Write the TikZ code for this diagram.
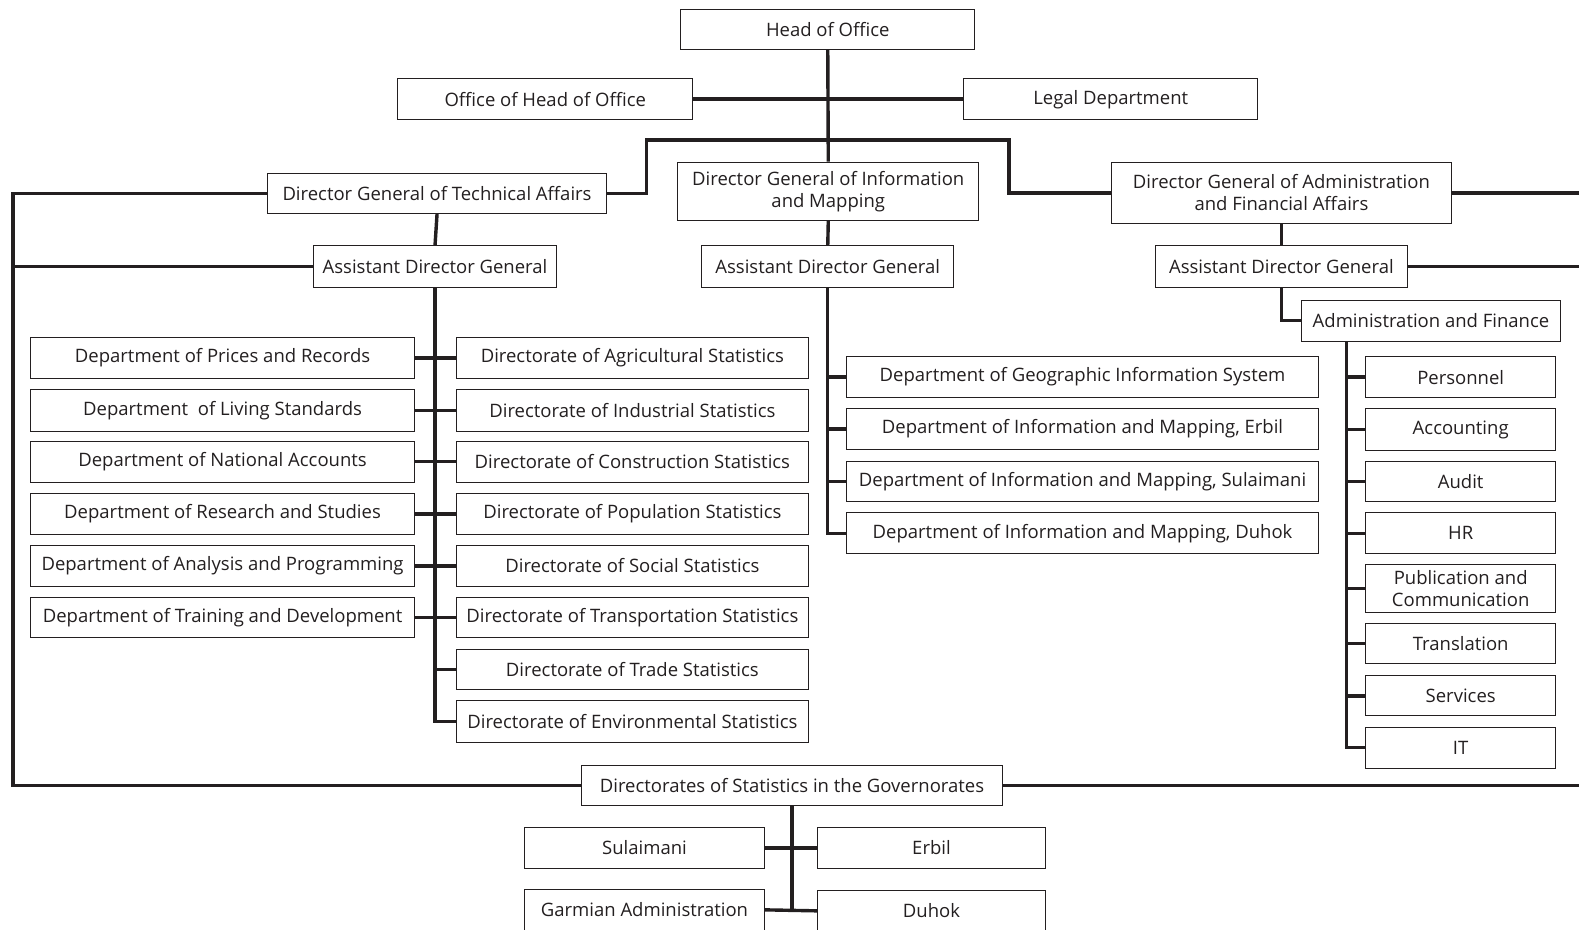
\documentclass[tikz,border=0pt]{standalone}
\usepackage{fontspec}
\setmainfont{Open Sans}
\definecolor{ink}{HTML}{231F20}
\newcommand\bx[6]{\node[box, minimum width={(#4-#2)*1.00702pt}, minimum height={(#5-#3)*1.00702pt}] (#1) at ({(#2+#4)/2},{(#3+#5)/2}) {#6};}
\begin{document}
\begin{tikzpicture}[x=1.00702pt,y=-1.00702pt,
  box/.style={draw=ink, line width=1pt, fill=white, inner sep=0pt, align=center, text=ink,
    font=\fontsize{18.5}{22}\selectfont},
  conn/.style={draw=ink, line width=3.4pt}]
\useasboundingbox (0,0) rectangle (1568,923);
% top
\bx{head}{676}{9}{968}{49}{Head of Office}
\bx{ohoo}{395}{78}{688}{119}{Office of Head of Office}
\bx{legal}{957}{78}{1249}{119}{Legal Department}
\bx{dgt}{266}{172}{602}{212}{Director General of Technical Affairs}
\bx{dgi}{673}{161}{972}{219}{Director General of Information\\and Mapping}
\bx{dga}{1104}{161}{1441}{222}{Director General of Administration\\and Financial Affairs}
\bx{adgt}{311}{244}{553}{285}{Assistant Director General}
\bx{adgi}{697}{244}{947}{285}{Assistant Director General}
\bx{adga}{1147}{244}{1398}{285}{Assistant Director General}
\bx{af}{1292}{298}{1550}{339}{Administration and Finance}
% left column
\bx{p1}{30}{335}{412}{376}{Department of Prices and Records}
\bx{p2}{30}{387}{412}{428}{Department~ of Living Standards}
\bx{p3}{30}{438}{412}{479}{Department of National Accounts}
\bx{p4}{30}{490}{412}{531}{Department of Research and Studies}
\bx{p5}{30}{542}{412}{582}{Department of Analysis and Programming}
\bx{p6}{30}{593}{412}{633}{Department of Training and Development}
% middle column
\bx{d1}{453}{335}{803}{376}{Directorate of Agricultural Statistics}
\bx{d2}{453}{387}{803}{428}{Directorate of Industrial Statistics}
\bx{d3}{453}{438}{803}{479}{Directorate of Construction Statistics}
\bx{d4}{453}{490}{803}{531}{Directorate of Population Statistics}
\bx{d5}{453}{542}{803}{582}{Directorate of Social Statistics}
\bx{d6}{453}{593}{803}{633}{Directorate of Transportation Statistics}
\bx{d7}{453}{645}{803}{685}{Directorate of Trade Statistics}
\bx{d8}{453}{696}{803}{737}{Directorate of Environmental Statistics}
% information column
\bx{i1}{841}{354}{1309}{395}{Department of Geographic Information System}
\bx{i2}{841}{406}{1309}{446}{Department of Information and Mapping, Erbil}
\bx{i3}{841}{458}{1309}{498}{Department of Information and Mapping, Sulaimani}
\bx{i4}{841}{509}{1309}{550}{Department of Information and Mapping, Duhok}
% admin column
\bx{a1}{1356}{354}{1545}{395}{Personnel}
\bx{a2}{1356}{406}{1545}{447}{Accounting}
\bx{a3}{1356}{458}{1545}{498}{Audit}
\bx{a4}{1356}{509}{1545}{550}{HR}
\bx{a5}{1356}{561}{1545}{608}{Publication and\\Communication}
\bx{a6}{1356}{619}{1545}{659}{Translation}
\bx{a7}{1356}{671}{1545}{711}{Services}
\bx{a8}{1356}{722}{1545}{763}{IT}
% governorates
\bx{gov}{577}{760}{996}{800}{Directorates of Statistics in the Governorates}
\bx{sul}{521}{822}{759}{862}{Sulaimani}
\bx{erb}{812}{822}{1038}{862}{Erbil}
\bx{garm}{521}{883}{759}{924}{Garmian Administration}
\bx{duh}{812}{884}{1038}{925}{Duhok}
% helper coordinates
\coordinate (Lx) at (13,0);
\coordinate (Rx) at (1580,0);
\coordinate (barL) at (642,139);
\coordinate (barR) at (1002,139);
\coordinate (afx) at (1337,0);
% connectors
\draw[conn] (head.south) -- (dgi.north);
\draw[conn] (ohoo.east) -- (legal.west);
\draw[conn] (dgt.east) -| (barL) -- (barR) |- (dga.west);
\draw[conn] (dgt.west) -- (dgt.west -| Lx) -- (gov.west -| Lx) -- (gov.west);
\draw[conn] (adgt.west) -- (adgt.west -| Lx);
\draw[conn] (dga.east) -- (dga.east -| Rx);
\draw[conn] (adga.east) -- (adga.east -| Rx);
\draw[conn] (gov.east) -- (gov.east -| Rx);
\draw[conn] (dgt.south) -- (adgt.north);
\draw[conn] (dgi.south) -- (adgi.north);
\draw[conn] (dga.south) -- (adga.north);
% technical
\draw[conn] (adgt.south) |- (d8.west);
\foreach \l/\r in {p1/d1,p2/d2,p3/d3,p4/d4,p5/d5,p6/d6}
  \draw[conn] (\l.east) -- (\r.west);
\draw[conn] (d7.west) -- (d7.west -| adgt.south);
% information
\draw[conn] (adgi.south) |- (i4.west);
\foreach \n in {i1,i2,i3}
  \draw[conn] (\n.west) -- (\n.west -| adgi.south);
% admin
\draw[conn] (adga.south) |- (af.west);
\draw[conn] (af.south -| afx) |- (a8.west);
\foreach \n in {a1,a2,a3,a4,a5,a6,a7}
  \draw[conn] (\n.west) -- (\n.west -| afx);
% governorates
\draw[conn] (gov.south) -- (gov.south |- garm.east);
\draw[conn] (sul.east) -- (erb.west);
\draw[conn] (garm.east) -- (duh.west);
\end{tikzpicture}
\end{document}
